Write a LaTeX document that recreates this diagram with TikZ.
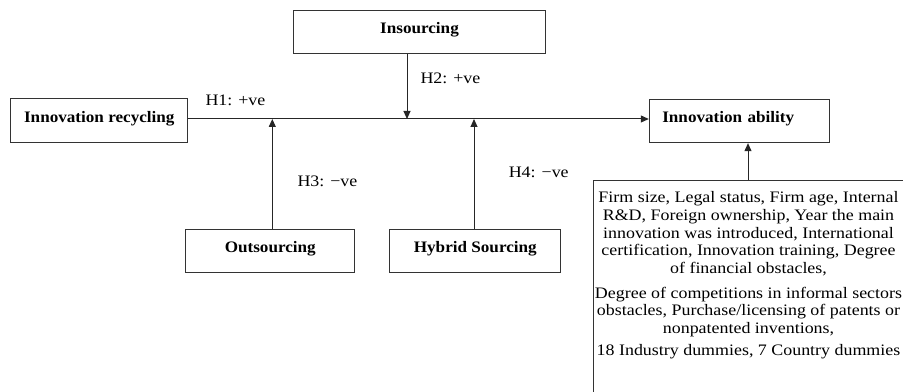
\documentclass[tikz,border=0pt]{standalone}
\usepackage{fontspec}
\setmainfont{Liberation Serif}[FakeStretch=1.12]
\newfontfamily\boxfont{Liberation Serif}[FakeStretch=1.07]
\usetikzlibrary{arrows.meta}

\tikzset{every picture/.style={line width=0.75pt}}

\begin{document}
\begin{tikzpicture}[x=0.75pt,y=0.75pt,yscale=-1,xscale=1,
  varbox/.style={draw=black!80, line width=0.75, inner sep=0pt, text height=8pt, text depth=6pt, font=\fontsize{12}{14}\boxfont\bfseries},
  arr/.style={draw=black!85, line width=0.75, -{Triangle[length=6pt,width=5.25pt]}},
  hyplab/.style={anchor=base west, inner sep=0pt, font=\fontsize{12}{14}\selectfont}]
\useasboundingbox (0,0) rectangle (903,392);

%Shape: Rectangle [Innovation recycling]
\draw (99.3,120.8) node [varbox, minimum width=132.5pt, minimum height=32.75pt] (recyc) {Innovation recycling};
%Shape: Rectangle [Insourcing]
\draw (419.5,32.3) node [varbox, minimum width=189.3pt, minimum height=32.5pt] (ins) {Insourcing};
%Shape: Rectangle [Innovation ability]
\draw (739.3,121) node [varbox, inner xsep=9.75pt, text width=115.5pt, align=left, minimum height=32.5pt] (abil) {Innovation ability};
%Shape: Rectangle [Outsourcing]
\draw (270.3,250.7) node [varbox, minimum width=127pt, minimum height=32.5pt] (out) {Outsourcing};
%Shape: Rectangle [Hybrid Sourcing]
\draw (475.3,250.8) node [varbox, minimum width=128pt, minimum height=32.5pt] (hyb) {Hybrid Sourcing};
%Shape: Rectangle [controls]
\draw (748.5,180) node [anchor=north, draw=black!80, line width=0.75, inner xsep=1pt, inner ysep=8.5pt, align=center, font=\fontsize{12}{13.2}\selectfont] (ctrl) {Firm size, Legal status, Firm age, Internal\\ R\&D, Foreign ownership, Year the main\\ innovation was introduced, International\\ certification, Innovation training, Degree\\ of financial obstacles,\\[5.5pt] Degree of competitions in informal sectors\\ obstacles, Purchase/licensing of patents or\\ nonpatented inventions,\\[3.5pt] 18 Industry dummies, 7 Country dummies\\[30pt] \strut};

%Straight Lines [main path]
\coordinate (mainy) at (0,119);
\draw [arr] (recyc.east |- mainy) -- (abil.west |- mainy);
%Straight Lines [moderators]
\coordinate (j2) at (407,119);
\coordinate (j3) at (272.3,119);
\coordinate (j4) at (474,119);
\draw [arr] (ins.south -| j2) -- (j2);
\draw [arr] (out.north -| j3) -- (j3);
\draw [arr] (hyb.north -| j4) -- (j4);
%Straight Lines [controls]
\coordinate (jc) at (748,0);
\draw [arr] (ctrl.north -| jc) -- (abil.south -| jc);

% Text Node
\draw (205,106) node [hyplab] (h1) {H1: +ve};
% Text Node
\draw (420,83.3) node [hyplab] (h2) {H2: +ve};
% Text Node
\draw (297,186.7) node [hyplab] (h3) {H3: −ve};
% Text Node
\draw (508.3,177.3) node [hyplab] (h4) {H4: −ve};

\end{tikzpicture}
\end{document}
